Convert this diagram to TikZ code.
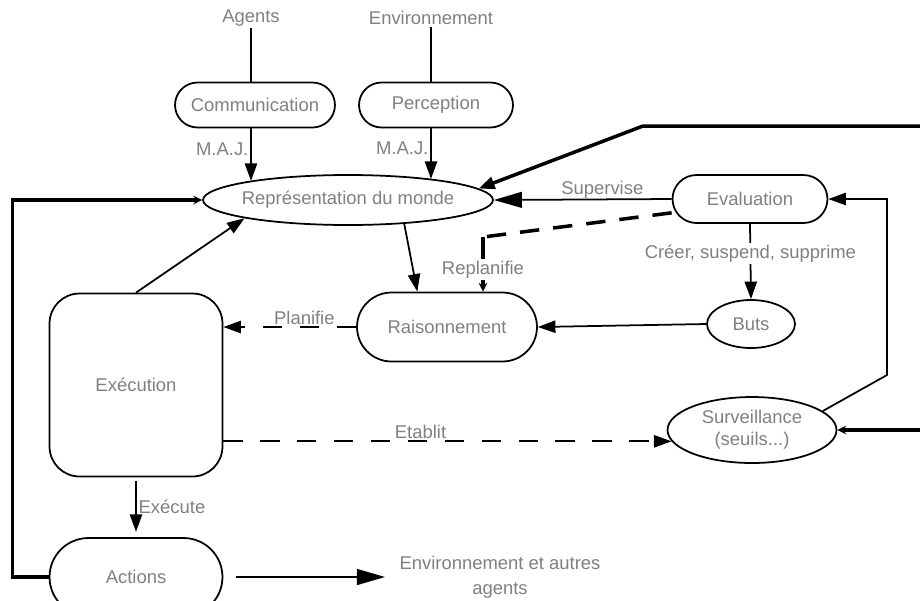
\documentclass[tikz,border=0pt]{standalone}
\usepackage{fontspec}
\setmainfont{Liberation Sans}
\usetikzlibrary{arrows.meta,shapes.geometric}
\definecolor{txtgray}{gray}{0.5}
\tikzset{
  pill/.style={draw, line width=1pt, text=txtgray},
  oval/.style={draw, ellipse, line width=1pt, text=txtgray, inner sep=0pt},
  lbl/.style={text=txtgray, inner sep=1pt},
  arr/.style={line width=1pt, -{Triangle[length=10pt,width=7pt]}},
  bigarr/.style={line width=1pt, -{Triangle[length=16pt,width=9pt]}},
  smallarr/.style={-{Stealth[length=5pt,width=5pt]}},
  dash1/.style={dash pattern=on 11pt off 10pt},
}

\begin{document}
\begin{tikzpicture}[x=0.02cm, y=-0.02cm, font=\fontsize{10.5}{12.5}\selectfont]
\useasboundingbox (0,0) rectangle (920,600);
% inputs from outside
\node[lbl] (agents) at (251,18) {Agents};
\node[lbl] (envsrc) at (431,18) {Environnement};
\node[pill, minimum width=3.2cm, minimum height=0.9cm, rounded corners=0.45cm] (comm) at (255,105) {Communication};
\node[pill, minimum width=3.08cm, minimum height=0.9cm, rounded corners=0.45cm] (perc) at (436,105) {Perception};
\draw[line width=1pt] (agents.south) -- (agents.south |- comm.north);
\draw[line width=1pt] (envsrc.south) -- (envsrc.south |- perc.north);
% world model
\node[oval, minimum width=5.8cm, minimum height=1cm, label={[lbl]center:Représentation du monde}] (monde) at (348,200) {};
\draw[arr] (agents |- comm.south) -- (agents |- monde.169) node[lbl, left, pos=0.4] {M.A.J.};
\draw[arr] (envsrc |- perc.south) -- (envsrc |- monde.14) node[lbl, left, pos=0.4] {M.A.J.};
\coordinate (topin) at (920,126);
\coordinate (topbend) at (643,126);
\draw[line width=2pt, -{Triangle[length=9pt,width=7pt]}] (topin) -- (topbend) -- (monde.5);
% evaluation and goals
\node[pill, minimum width=3.1cm, minimum height=0.96cm, rounded corners=0.48cm] (eval) at (750,199) {Evaluation};
\draw[bigarr] (eval.west) -- (monde.east) node[lbl, above, inner sep=0pt, pos=0.39] {Supervise};
\node[pill, minimum width=3.6cm, minimum height=1.38cm, rounded corners=0.69cm] (raison) at (447,327) {Raisonnement};
\draw[arr] (monde.-23) -- (raison.130);
\coordinate (rp) at (483,237);
\draw[line width=2pt, dash pattern=on 11pt off 8pt] (eval.190) -- (rp);
\draw[line width=2pt, smallarr] (rp) -- (rp |- raison.north) node[lbl, fill=white, pos=0.6] {Replanifie};
\node[oval, minimum width=1.76cm, minimum height=0.96cm] (buts) at (751,324) {Buts};
\draw[arr] (eval.south) -- (buts.north) node[lbl, fill=white, pos=0.39] {Créer, suspend, supprime};
\draw[arr] (buts.west) -- (raison.east);
% execution
\node[pill, minimum width=3.46cm, minimum height=3.66cm, rounded corners=0.6cm] (exec) at (136,385) {Exécution};
\draw[arr] (exec.north) -- (monde.190);
\draw[arr, dash1] (raison.west) -- (raison.west -| exec.east) node[lbl, above, pos=0.39] {Planifie};
\node[oval, minimum width=3.38cm, minimum height=1.32cm, align=center] (surv) at (752,430) {Surveillance\\(seuils...)};
\draw[arr, dash1] (exec.east |- surv.188) -- (surv.188) node[lbl, above, pos=0.44] {Etablit};
\coordinate (svbend) at (887,375);
\draw[arr] (surv.15) -- (svbend) |- (eval.east);
\coordinate (rin) at (920,430);
\draw[line width=2pt, smallarr] (rin) -- (surv.east);
% actions
\node[pill, minimum width=3.46cm, minimum height=1.56cm, rounded corners=0.78cm] (act) at (136,577) {Actions};
\draw[arr, shorten <=2pt, shorten >=3pt] (exec.south) -- (act.north) node[lbl, right, midway] {Exécute};
\node[lbl, align=center] (envag) at (500,577) {Environnement et autres\\[2pt]agents};
\draw[bigarr, shorten <=7pt, shorten >=7pt] (act.east) -- (envag.west);
\draw[line width=2pt, smallarr] (act.west) -- ++(-36,0) |- (monde.west);
\end{tikzpicture}
\end{document}
